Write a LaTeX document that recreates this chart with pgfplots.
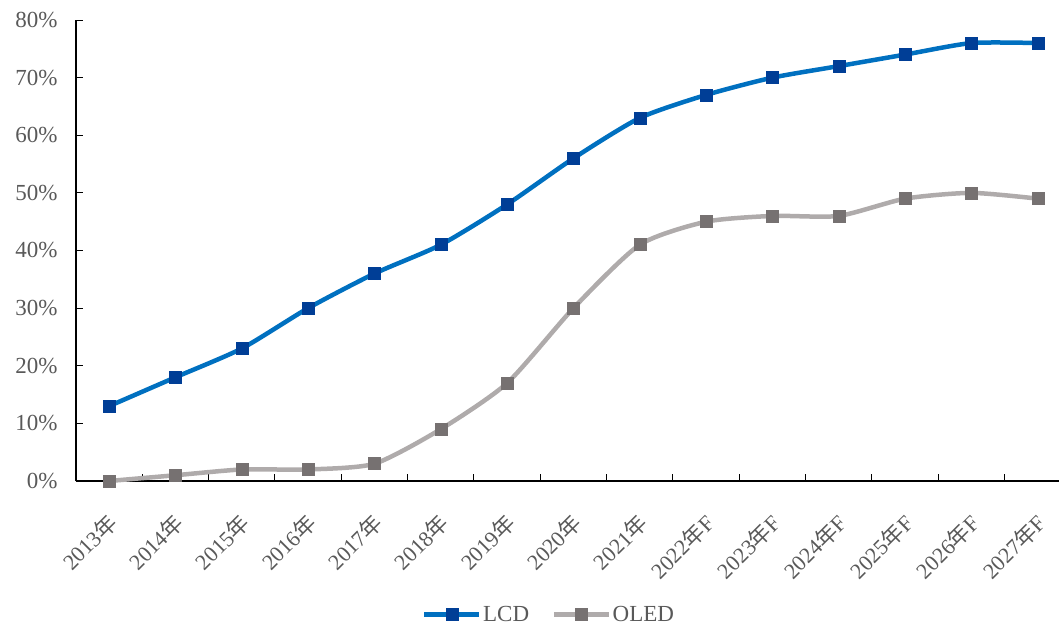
\documentclass[border=0pt]{standalone}
\usepackage{pgfplots}
\pgfplotsset{compat=1.18}
\usepackage{fontspec}
\setmainfont{Liberation Serif}
\newfontfamily\cjk{Noto Sans CJK SC}
\definecolor{lcdline}{RGB}{0,112,192}
\definecolor{lcdmark}{RGB}{0,62,150}
\definecolor{oledline}{RGB}{175,171,171}
\definecolor{oledmark}{RGB}{118,113,113}
\definecolor{labgray}{RGB}{89,89,89}
\begin{document}
\begin{tikzpicture}
\begin{axis}[
  at={(0,0)}, anchor=south west,
  scale only axis, width=983bp, height=461bp,
  xmin=-0.5, xmax=14.32, ymin=0, ymax=80,
  axis lines*=left,
  axis line style={black, line width=1.1bp},
  tick align=inside, major tick length=7bp,
  tick style={black, line width=1bp},
  ytick={0,10,...,80},
  yticklabels={0\%,10\%,20\%,30\%,40\%,50\%,60\%,70\%,80\%},
  yticklabel style={font=\fontsize{23bp}{27bp}\selectfont, text=labgray, xshift=-15bp},
  xtick={0.5,1.5,...,13.5},
  xticklabels={},
  extra x ticks={0,1,...,14},
  extra x tick labels={2013{\cjk 年},2014{\cjk 年},2015{\cjk 年},2016{\cjk 年},2017{\cjk 年},2018{\cjk 年},2019{\cjk 年},2020{\cjk 年},2021{\cjk 年},2022{\cjk 年}F,2023{\cjk 年}F,2024{\cjk 年}F,2025{\cjk 年}F,2026{\cjk 年}F,2027{\cjk 年}F},
  extra x tick style={major tick length=0pt},
  xticklabel style={font=\fontsize{22bp}{26bp}\selectfont, text=labgray, rotate=45, anchor=north east, inner sep=1bp, yshift=-18bp, xshift=-23bp},
  clip=false,
  legend columns=2,
  legend style={at={(0.481,-0.29)}, anchor=center, draw=none, fill=none,
    font=\fontsize{23bp}{27bp}\selectfont, text=labgray,
    nodes={inner sep=1.5bp},
    /tikz/every even column/.append style={column sep=21bp},
    /tikz/every odd column/.append style={column sep=0bp}},
  legend image code/.code={\draw[mark repeat=2, mark phase=2, #1] plot coordinates {(0bp,0bp) (27.5bp,0bp) (55bp,0bp)};},
  legend cell align=left,
]
\addplot[smooth, tension=0.4, lcdline, line width=4.5bp, mark=square*, mark size=6bp,
  mark options={draw=lcdmark, fill=lcdmark, line width=0.5bp}]
  coordinates {(0,13)(1,18)(2,23)(3,30)(4,36)(5,41)(6,48)(7,56)(8,63)(9,67)(10,70)(11,72)(12,74)(13,76)(14,76)};
\addlegendentry{LCD}
\addplot[smooth, tension=0.4, oledline, line width=4.5bp, mark=square*, mark size=6bp,
  mark options={draw=oledmark, fill=oledmark, line width=0.5bp}]
  coordinates {(0,0)(1,1)(2,2)(3,2)(4,3)(5,9)(6,17)(7,30)(8,41)(9,45)(10,46)(11,46)(12,49)(13,50)(14,49)};
\addlegendentry{OLED}
\end{axis}
\pgfresetboundingbox
\path (-76bp,-145bp) rectangle (983bp,481bp);
\end{tikzpicture}
\end{document}
